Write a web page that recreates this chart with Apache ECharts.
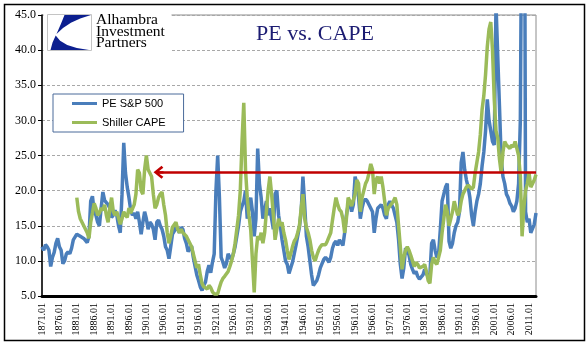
<!DOCTYPE html>
<html>
<head>
<meta charset="utf-8">
<script src="https://cdn.jsdelivr.net/npm/echarts@6/dist/echarts.min.js"></script>
<style>
html,body{margin:0;padding:0;background:#fff;}
#chart{width:588px;height:361px;}
</style>
</head>
<body>
<div id="chart"></div>
<script>
// ---- Data (semi-annual readings, 1871.01 .. 2013.01) ----
const firstYear = 1871;
const lastYear = 2013;
const categories = [];
for (let y = firstYear; y <= lastYear; y++) {
  categories.push(y + '.01');
  if (y < lastYear) categories.push(y + '.07');
}

const peSP500 = [
  12.0,11.5, 12.3,12.0, 11.5,9.2, 10.5,11.2, 12.5,13.2, 12.0,11.5, 9.6,10.0, 11.0,11.3, 11.0,11.8, 13.0,12.8,
  13.8,14.0, 13.5,13.6, 13.2,13.0, 12.6,13.5, 18.5,19.2, 17.0,16.5, 15.5,15.0, 17.5,19.8, 18.6,18.3, 18.0,17.5,
  16.2,16.5, 17.2,16.5, 15.0,14.0, 19.5,26.8, 22.5,20.5, 19.0,17.2, 16.5,16.8, 16.0,17.0, 15.5,13.8, 15.5,17.0,
  16.0,14.5, 15.5,15.2, 14.5,13.0, 15.5,15.8, 15.0,14.5, 13.5,12.0, 11.5,10.3, 12.0,13.8, 14.2,14.8, 14.5,14.0,
  14.8,14.5, 13.2,12.5, 11.3,11.8, 12.1,10.5, 9.2,8.0, 7.2,6.3, 5.8,6.5, 7.0,8.5, 9.4,8.3, 9.8,11.0,
  20.0,25.0, 19.0,10.5, 9.8,9.0, 9.6,11.0, 10.5,10.2, 11.0,12.0, 13.5,15.0, 17.0,17.8, 18.5,20.0, 16.0,17.5,
  19.0,17.0, 13.5,16.0, 26.0,21.0, 19.0,16.0, 17.2,18.5, 16.5,17.5, 16.0,14.5, 19.5,20.0, 16.5,15.0, 13.0,11.5,
  10.0,9.5, 8.2,8.0, 9.8,11.0, 12.2,13.5, 14.8,17.0, 22.0,18.0, 13.5,12.0, 10.0,8.0, 6.5,6.3, 7.2,8.0,
  9.0,9.6, 10.2,10.5, 10.2,9.8, 10.5,11.8, 12.5,12.8, 12.2,13.0, 12.8,12.2, 14.0,16.5, 18.0,18.5, 17.0,18.0,
  22.0,21.0, 19.0,16.0, 17.5,18.5, 18.8,18.5, 18.0,17.5, 17.0,14.0, 16.0,17.5, 17.5,18.0, 17.5,16.5, 16.0,18.0,
  18.5,18.0, 17.5,16.5, 15.5,13.0, 9.5,7.5, 9.0,11.8, 11.5,10.8, 9.5,8.8, 8.2,8.5, 7.8,7.4, 7.5,8.0,
  8.8,8.2, 7.7,8.0, 12.5,13.0, 11.5,10.5, 11.0,14.5, 18.5,19.5, 20.5,21.0, 12.8,11.8, 12.5,14.0, 15.0,15.5,
  17.0,24.0, 25.5,23.0, 21.5,20.5, 19.0,16.5, 15.0,17.0, 18.5,19.5, 21.0,23.5, 25.5,28.5, 33.0,30.0, 28.5,27.0,
  26.5,46.5, 46.5,32.0, 24.5,22.0, 21.0,19.5, 19.0,18.2, 17.8,17.0, 17.5,18.5, 21.0,30.0, 70.0,100.0, 17.0,15.5,
  16.0,14.0, 14.0,15.2, 16.8
];

const shillerCAPE = [
  null,null, null,null, null,null, null,null, null,null, null,null, null,null, null,null, null,null, null,null,
  19.0,17.0, 16.0,15.8, 15.0,14.8, 14.0,13.2, 15.5,16.8, 18.2,17.5, 16.5,16.8, 17.5,17.2, 18.0,16.5, 15.5,17.5,
  19.0,17.0, 16.5,17.0, 17.0,15.2, 16.0,17.0, 16.5,16.2, 17.5,16.8, 17.0,18.0, 19.5,23.0, 22.5,20.0, 19.5,23.0,
  25.0,23.0, 22.5,22.0, 19.5,17.5, 18.0,19.0, 19.5,19.8, 18.0,16.5, 14.0,12.5, 13.5,14.8, 15.0,15.5, 14.5,14.0,
  14.5,14.0, 14.2,13.5, 13.0,12.5, 12.0,11.0, 10.0,9.0, 9.5,8.0, 6.8,6.3, 6.2,6.0, 6.5,6.2, 5.6,5.3,
  5.2,5.3, 6.2,7.0, 7.5,7.8, 7.8,8.5, 9.2,10.0, 11.0,12.5, 14.5,16.5, 20.0,27.0, 32.5,23.0, 19.0,16.5,
  14.4,10.0, 5.5,11.0, 13.5,13.0, 14.0,12.5, 14.0,17.0, 20.0,22.0, 19.5,16.5, 13.0,14.5, 16.0,15.0, 15.5,14.0,
  13.0,11.5, 10.2,11.0, 12.0,12.8, 13.2,14.0, 15.0,17.5, 19.5,16.0, 14.8,14.0, 13.0,11.5, 10.5,10.0, 10.8,11.5,
  12.0,12.3, 12.5,12.3, 12.8,13.0, 14.0,15.8, 17.5,19.0, 18.0,17.3, 17.0,16.0, 14.0,16.0, 19.0,18.5, 17.8,18.0,
  19.5,21.5, 21.0,17.0, 19.0,20.0, 21.0,21.5, 22.5,23.8, 23.0,19.5, 21.5,22.0, 21.0,22.0, 20.5,18.5, 16.5,17.5,
  17.8,18.0, 18.5,19.0, 18.0,15.0, 12.0,8.8, 10.5,11.5, 12.0,11.5, 10.8,10.0, 9.2,9.8, 9.5,9.0, 8.8,9.2,
  9.5,8.5, 7.2,6.8, 9.5,10.5, 9.8,9.5, 10.5,11.5, 14.0,16.0, 18.0,17.0, 15.0,16.0, 17.0,18.5, 17.5,16.5,
  17.0,18.5, 19.5,20.0, 20.5,20.8, 21.0,20.2, 20.5,22.5, 24.0,25.5, 28.0,31.5, 33.5,36.5, 40.5,43.0, 44.0,40.0,
  33.0,28.5, 27.5,24.5, 22.5,25.5, 27.0,26.5, 26.5,26.0, 26.5,26.2, 27.0,27.0, 25.0,22.0, 13.5,17.5, 20.0,21.0,
  22.5,20.5, 21.0,21.5, 22.3
];

const yTicks = { min: 5, max: 45, step: 5 };
const arrowLevel = 22.6;
const arrowFrom = '1904.07';
const arrowTo = '2013.01';

const seriesNames = ['PE S&P 500', 'Shiller CAPE'];
const titleText = 'PE vs. CAPE';
const logoLines = ['Alhambra', 'Investment', 'Partners'];

// ---- Chart ----
const chart = echarts.init(document.getElementById('chart'), null, { renderer: 'canvas' });

const chevron = 'path://M6.5,0 L13,8 L11,9.8 L7.6,5.3 L7.6,10 L5.4,10 L5.4,5.3 L2,9.8 L0,8 Z';

const logoUpper = [[64.5,15],[91,15],[80.2,18.4],[70.9,22.75],[63,27.9],[56.5,34],[58.7,29.1],[60.75,24.25],[62.7,19.6]];
const logoLower = [[55.7,35.5],[60.1,40.7],[67.2,44.9],[76.8,48.0],[89,50],[50.5,50],[52.55,42.4]];

const option = {
  animation: false,
  backgroundColor: '#fff',
  title: {
    text: titleText,
    left: 251,
    top: 18,
    textStyle: { fontFamily: 'Liberation Serif', fontSize: 22, fontWeight: 'normal', color: '#1c1c72' }
  },
  legend: {
    data: seriesNames,
    orient: 'vertical',
    left: 53,
    top: 94,
    padding: [4, 18, 4, 19],
    itemGap: 8,
    itemWidth: 25,
    itemHeight: 3,
    icon: 'rect',
    backgroundColor: '#fff',
    borderColor: '#4a6a9a',
    borderWidth: 1,
    textStyle: { fontFamily: 'Liberation Sans', fontSize: 11, color: '#000' }
  },
  grid: {
    left: 42, right: 52, top: 15, bottom: 65,
    show: true, borderColor: '#8c8c8c', borderWidth: 1, backgroundColor: 'transparent'
  },
  xAxis: {
    type: 'category',
    data: categories,
    boundaryGap: false,
    axisLine: { lineStyle: { color: '#000', width: 3 } },
    axisTick: { show: false },
    axisLabel: {
      interval: 9,
      rotate: 90,
      margin: 7,
      fontFamily: 'Liberation Serif',
      fontSize: 10,
      color: '#000'
    },
    splitLine: { show: false }
  },
  yAxis: {
    type: 'value',
    min: yTicks.min,
    max: yTicks.max,
    interval: yTicks.step,
    axisLine: { show: true, lineStyle: { color: '#000', width: 1.5 } },
    axisTick: { show: true, length: 4, lineStyle: { color: '#000' } },
    axisLabel: {
      formatter: v => v.toFixed(1),
      margin: 6,
      fontFamily: 'Liberation Serif',
      fontSize: 12,
      color: '#000'
    },
    splitLine: { show: true, lineStyle: { color: '#a8a8a8', width: 1, type: [3, 2] } }
  },
  series: [
    {
      name: seriesNames[0],
      type: 'line',
      data: peSP500,
      symbol: 'none',
      clip: true,
      color: '#4a7ebb',
      lineStyle: { color: '#4a7ebb', width: 3.5 },
      z: 2
    },
    {
      name: seriesNames[1],
      type: 'line',
      data: shillerCAPE,
      symbol: 'none',
      clip: true,
      connectNulls: false,
      color: '#9bbb59',
      lineStyle: { color: '#9bbb59', width: 3.5 },
      z: 3,
      markLine: {
        silent: true,
        symbol: [chevron, 'none'],
        symbolSize: [13, 10],
        lineStyle: { color: '#c00000', width: 2.5, type: 'solid' },
        label: { show: false },
        emphasis: { disabled: true },
        data: [[
          { coord: [arrowFrom, arrowLevel] },
          { coord: [arrowTo, arrowLevel] }
        ]]
      }
    }
  ],
  graphic: [
    { type: 'rect', z: 100, silent: true, shape: { x: 4.5, y: 4.5, width: 580, height: 336 },
      style: { fill: 'none', stroke: '#000', lineWidth: 1.5 } },
    { type: 'rect', z: 90, silent: true, shape: { x: 43.5, y: 11, width: 128, height: 42 },
      style: { fill: '#fff' } },
    { type: 'rect', z: 91, silent: true, shape: { x: 47.5, y: 14.5, width: 44, height: 36 },
      style: { fill: '#fff', stroke: '#c4c4c4', lineWidth: 1 } },
    { type: 'polygon', z: 92, silent: true, shape: { points: logoUpper }, style: { fill: '#0c1f8f' } },
    { type: 'polygon', z: 92, silent: true, shape: { points: logoLower }, style: { fill: '#0c1f8f' } },
    { type: 'text', z: 93, silent: true, style: { text: logoLines[0], x: 96, y: 20, verticalAlign: 'middle',
      font: '15.5px "Liberation Serif"', fill: '#000' } },
    { type: 'text', z: 93, silent: true, style: { text: logoLines[1], x: 96, y: 31.5, verticalAlign: 'middle',
      font: '15.5px "Liberation Serif"', fill: '#000' } },
    { type: 'text', z: 93, silent: true, style: { text: logoLines[2], x: 96, y: 43, verticalAlign: 'middle',
      font: '15.5px "Liberation Serif"', fill: '#000' } }
  ]
};

chart.setOption(option);
</script>
</body>
</html>
